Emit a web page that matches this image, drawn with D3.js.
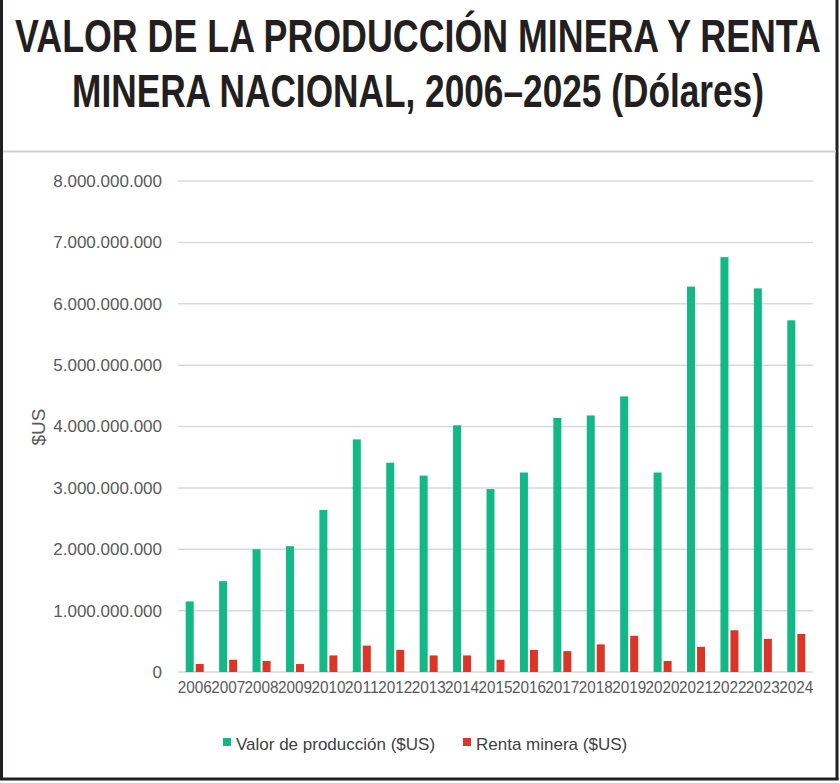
<!DOCTYPE html>
<html>
<head>
<meta charset="utf-8">
<script src="https://cdn.jsdelivr.net/npm/d3@7"></script>
<style>
  body { margin: 0; background: #fff; }
  svg { display: block; }
</style>
</head>
<body>
<svg id="chart" width="840" height="783"></svg>
<script>
// data (US dollars)
const years = ["2006","2007","2008","2009","2010","2011","2012","2013","2014","2015",
               "2016","2017","2018","2019","2020","2021","2022","2023","2024"];
const valorProduccion = [1.15e9, 1.48e9, 2.00e9, 2.05e9, 2.64e9, 3.79e9, 3.41e9, 3.20e9, 4.02e9, 2.98e9,
                         3.25e9, 4.14e9, 4.18e9, 4.49e9, 3.25e9, 6.28e9, 6.76e9, 6.25e9, 5.73e9];
const rentaMinera = [0.13e9, 0.20e9, 0.18e9, 0.13e9, 0.27e9, 0.43e9, 0.36e9, 0.27e9, 0.27e9, 0.20e9,
                     0.36e9, 0.34e9, 0.45e9, 0.59e9, 0.18e9, 0.41e9, 0.68e9, 0.54e9, 0.62e9];
const seriesNames = ["Valor de producción ($US)", "Renta minera ($US)"];
const seriesColors = ["#12b886", "#dc3427"];
const yTicks = [0, 1e9, 2e9, 3e9, 4e9, 5e9, 6e9, 7e9, 8e9];
const titleLines = ["VALOR DE LA PRODUCCIÓN MINERA Y RENTA", "MINERA NACIONAL, 2006–2025 (Dólares)"];

const svg = d3.select("#chart");

// frame
svg.append("line").attr("x1", 1.5).attr("x2", 1.5).attr("y1", 0).attr("y2", 780)
   .attr("stroke", "#231f20").attr("stroke-width", 3);
svg.append("line").attr("x1", 837).attr("x2", 837).attr("y1", 0).attr("y2", 780)
   .attr("stroke", "#231f20").attr("stroke-width", 3);
svg.append("line").attr("x1", 0).attr("x2", 838.5).attr("y1", 779).attr("y2", 779)
   .attr("stroke", "#231f20").attr("stroke-width", 3);
svg.append("line").attr("x1", 3).attr("x2", 836).attr("y1", 151.5).attr("y2", 151.5)
   .attr("stroke", "#cfcfcf").attr("stroke-width", 2);

// title: condensed look by squeezing a bold sans horizontally
const titleWidths = [806, 692];
const titleGroups = svg.selectAll("g.title")
   .data(titleLines)
   .join("g")
   .attr("class", "title");
titleGroups.append("text")
   .attr("x", 0).attr("y", 0)
   .attr("text-anchor", "middle")
   .style("font-family", "'Liberation Sans', Arial, Helvetica, sans-serif")
   .style("font-weight", "bold")
   .style("font-size", "46px")
   .style("fill", "#231f20")
   .text(d => d);
titleGroups.attr("transform", function(d, i) {
   const w = d3.select(this).select("text").node().getComputedTextLength();
   return `translate(418,${52 + i * 55}) scale(${titleWidths[i] / w},1)`;
});

// scales
const x0 = d3.scaleBand().domain(years).range([178, 813]);
const x1 = d3.scaleBand().domain(seriesNames).range([0, x0.bandwidth()])
             .paddingInner(0.2).paddingOuter(0.77);
const y = d3.scaleLinear().domain([0, 8e9]).range([672, 181]);

const fmt = v => d3.format(",")(v).replace(/,/g, ".");

// gridlines
svg.append("g")
   .selectAll("line")
   .data(yTicks)
   .join("line")
   .attr("x1", 178).attr("x2", 813)
   .attr("y1", d => y(d)).attr("y2", d => y(d))
   .attr("stroke", "#d9d9d9").attr("stroke-width", 1.5);

// y axis labels
const yAxis = svg.append("g")
   .attr("transform", "translate(162,0)")
   .call(d3.axisLeft(y).tickValues(yTicks).tickFormat(fmt).tickSize(0).tickPadding(0));
yAxis.select(".domain").remove();
yAxis.selectAll("text")
   .style("font-family", "'Liberation Sans', Arial, sans-serif")
   .style("font-size", "17px")
   .style("fill", "#595959");

// x axis labels
const xAxis = svg.append("g")
   .attr("transform", "translate(0,682)")
   .call(d3.axisBottom(x0).tickSize(0).tickPadding(0));
xAxis.select(".domain").remove();
xAxis.selectAll("text")
   .attr("textLength", 34)
   .attr("lengthAdjust", "spacingAndGlyphs")
   .style("font-family", "'Liberation Sans', Arial, sans-serif")
   .style("font-size", "16px")
   .style("fill", "#595959");

// y axis title
svg.append("text")
   .attr("transform", "translate(45,427) rotate(-90)")
   .attr("text-anchor", "middle")
   .style("font-family", "'Liberation Sans', Arial, sans-serif")
   .style("font-size", "19px")
   .style("fill", "#595959")
   .text("$US");

// bars
const rows = years.map((yr, i) => ({ year: yr, values: [valorProduccion[i], rentaMinera[i]] }));
const groups = svg.append("g")
   .selectAll("g")
   .data(rows)
   .join("g")
   .attr("transform", d => `translate(${x0(d.year)},0)`);
groups.selectAll("rect")
   .data(d => d.values.map((v, k) => ({ key: seriesNames[k], value: v, k })))
   .join("rect")
   .attr("x", d => x1(d.key))
   .attr("width", x1.bandwidth())
   .attr("y", d => y(d.value))
   .attr("height", d => y(0) - y(d.value))
   .attr("fill", d => seriesColors[d.k]);

// legend
const legendX = [223, 463];
const legend = svg.append("g")
   .selectAll("g")
   .data(seriesNames)
   .join("g")
   .attr("transform", (d, i) => `translate(${legendX[i]},744)`);
legend.append("rect")
   .attr("x", 0).attr("y", -6).attr("width", 8).attr("height", 8)
   .attr("fill", (d, i) => seriesColors[i]);
legend.append("text")
   .attr("x", 13).attr("y", 6)
   .style("font-family", "'Liberation Sans', Arial, sans-serif")
   .style("font-size", "17px")
   .style("fill", "#404040")
   .text(d => d);
</script>
</body>
</html>
